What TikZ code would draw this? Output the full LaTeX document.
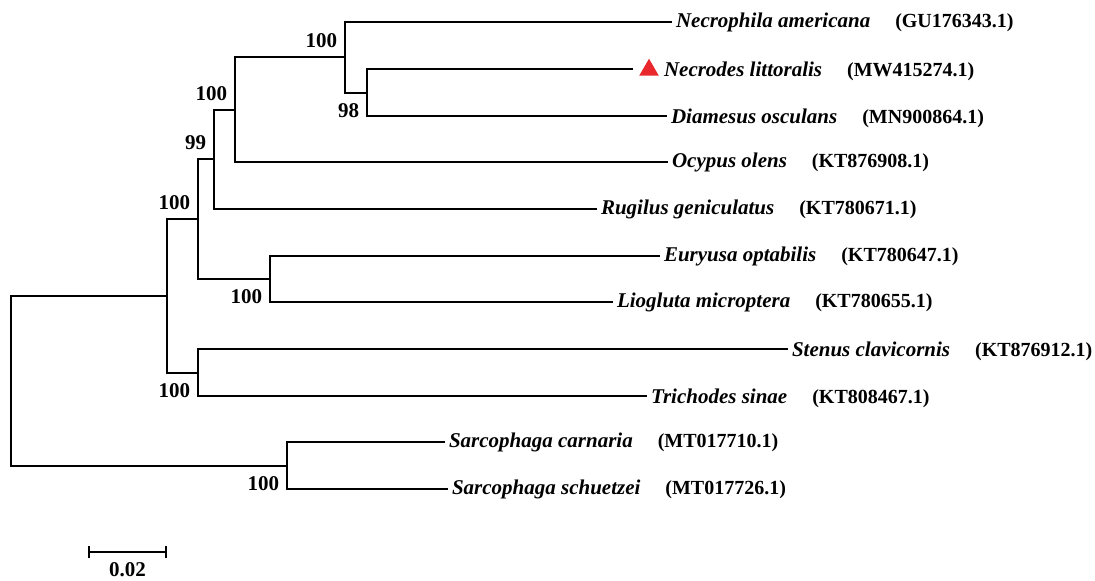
\documentclass[tikz,border=0pt]{standalone}
\usepackage{fontspec}
\setmainfont{Liberation Serif}
\usetikzlibrary{positioning,shapes.geometric,arrows.meta}
\definecolor{trired}{RGB}{232,40,45}

\begin{document}
\begin{tikzpicture}
      [x=0.5pt, y=-0.5pt,
       line width=1pt,
       species/.style={
           anchor=west,
           inner sep=1.5pt,
           font=\fontsize{10.5}{12}\selectfont\bfseries\itshape
         },
       acc/.style={
           inner sep=1.5pt,
           font=\fontsize{10}{12}\selectfont\bfseries
         },
       bup/.style={
           anchor=south east, inner sep=0pt,
           xshift=-3.5pt, yshift=4pt,
           font=\fontsize{10.5}{12}\selectfont\bfseries
         },
       bdown/.style={
           anchor=north east, inner sep=0pt,
           xshift=-3.5pt, yshift=-5pt,
           font=\fontsize{10.5}{12}\selectfont\bfseries
         },
       redtri/.style={
           regular polygon, regular polygon sides=3,
           fill=trired, inner sep=0pt, minimum size=11.3pt
         },
       ]
    \useasboundingbox (0,0) rectangle (1095,580);

    \coordinate (l1) at (672,22);
    \coordinate (l2) at (633,69);
    \coordinate (l3) at (667,116);
    \coordinate (l4) at (668,162);
    \coordinate (l5) at (597,209);
    \coordinate (l6) at (660,256);
    \coordinate (l7) at (613,302);
    \coordinate (l8) at (788,349);
    \coordinate (l9) at (647,396);
    \coordinate (l10) at (445,442);
    \coordinate (l11) at (448,489);

    \coordinate (nB) at (367,92.5);
    \coordinate (nA) at (345,57);
    \coordinate (nC) at (235,110);
    \coordinate (nD) at (214,159);
    \coordinate (nF) at (270,279);
    \coordinate (nE) at (198,219);
    \coordinate (nH) at (198,372.5);
    \coordinate (nG) at (167,296);
    \coordinate (nI) at (287,465.5);
    \coordinate (nR) at (11,381);

    \node [species] (sp1) at (l1) {Necrophila americana};
    \node [redtri] (tri) at (649,70) {};
    \node [species] (sp2) at (660,69) {Necrodes littoralis};
    \node [species] (sp3) at (l3) {Diamesus osculans};
    \node [species] (sp4) at (l4) {Ocypus olens};
    \node [species] (sp5) at (l5) {Rugilus geniculatus};
    \node [species] (sp6) at (l6) {Euryusa optabilis};
    \node [species] (sp7) at (l7) {Liogluta microptera};
    \node [species] (sp8) at (l8) {Stenus clavicornis};
    \node [species] (sp9) at (l9) {Trichodes sinae};
    \node [species] (sp10) at (l10) {Sarcophaga carnaria};
    \node [species] (sp11) at (l11) {Sarcophaga schuetzei};

    \node [acc, base right=8.5pt of sp1] (ac1) {(GU176343.1)};
    \node [acc, base right=8.5pt of sp2] (ac2) {(MW415274.1)};
    \node [acc, base right=8.5pt of sp3] (ac3) {(MN900864.1)};
    \node [acc, base right=8.5pt of sp4] (ac4) {(KT876908.1)};
    \node [acc, base right=8.5pt of sp5] (ac5) {(KT780671.1)};
    \node [acc, base right=8.5pt of sp6] (ac6) {(KT780647.1)};
    \node [acc, base right=8.5pt of sp7] (ac7) {(KT780655.1)};
    \node [acc, base right=8.5pt of sp8] (ac8) {(KT876912.1)};
    \node [acc, base right=8.5pt of sp9] (ac9) {(KT808467.1)};
    \node [acc, base right=8.5pt of sp10] (ac10) {(MT017710.1)};
    \node [acc, base right=8.5pt of sp11] (ac11) {(MT017726.1)};

    \draw (nB) |- (l2) (nB) |- (l3);
    \draw (nA) |- (l1) (nA) |- (nB);
    \draw (nC) |- (nA) (nC) |- (l4);
    \draw (nD) |- (nC) (nD) |- (l5);
    \draw (nF) |- (l6) (nF) |- (l7);
    \draw (nE) |- (nD) (nE) |- (nF);
    \draw (nH) |- (l8) (nH) |- (l9);
    \draw (nG) |- (nE) (nG) |- (nH);
    \draw (nI) |- (l10) (nI) |- (l11);
    \draw (nR) |- (nG) (nR) |- (nI);

    \node [bup] (bA) at (nA) {100};
    \node [bdown] (bB) at (nB) {98};
    \node [bup] (bC) at (nC) {100};
    \node [bup] (bD) at (nD) {99};
    \node [bup] (bE) at (nE) {100};
    \node [bdown] (bF) at (nF) {100};
    \node [bdown] (bH) at (nH) {100};
    \node [bdown] (bI) at (nI) {100};

    \coordinate (sb1) at (88,552);
    \coordinate (sb2) at (167,552);
    \path (sb1) edge [draw=black, {Bar[width=6pt]}-{Bar[width=6pt]}] (sb2);
    \node [anchor=north, inner sep=0pt, font=\fontsize{10.5}{12}\selectfont\bfseries]
      (sbl) at (127.5,562) {0.02};

  \end{tikzpicture}
\end{document}
